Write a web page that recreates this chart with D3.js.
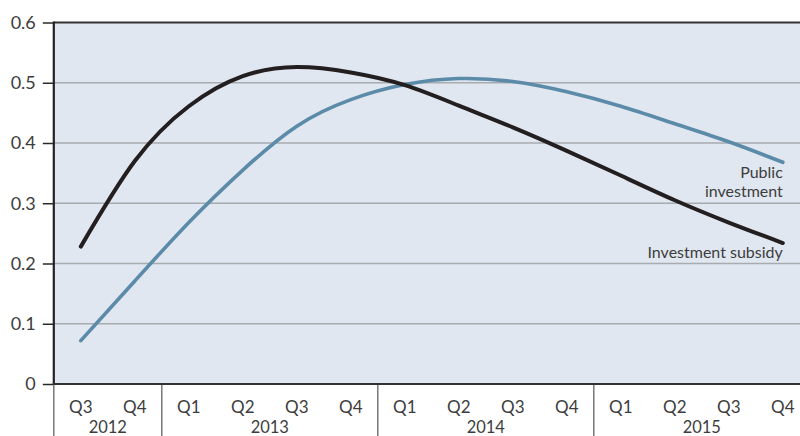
<!DOCTYPE html>
<html>
<head>
<meta charset="utf-8">
<script src="https://cdn.jsdelivr.net/npm/d3@7"></script>
<style>
  body { margin: 0; background: #fff; }
  svg text { font-family: Lato, "Liberation Sans", Arial, sans-serif; fill: #3d3d3d; }
</style>
</head>
<body>
<div id="chart"></div>
<script>
// quarters on the x axis, grouped by year
const quarterLabels = ["Q3", "Q4", "Q1", "Q2", "Q3", "Q4", "Q1", "Q2", "Q3", "Q4", "Q1", "Q2", "Q3", "Q4"];
const yearLabels = ["2012", "2013", "2014", "2015"];
const quartersPerYear = [2, 4, 4, 4];

// series values
const investmentSubsidy = [0.228, 0.37, 0.461, 0.511, 0.526, 0.517, 0.496, 0.462, 0.426, 0.387, 0.346, 0.305, 0.268, 0.234];
const publicInvestment  = [0.072, 0.171, 0.268, 0.355, 0.428, 0.472, 0.497, 0.507, 0.502, 0.485, 0.461, 0.432, 0.402, 0.368];

const yTicks = [0, 0.1, 0.2, 0.3, 0.4, 0.5, 0.6];

const W = 800, H = 436;
const plotLeft = 53.8, plotTop = 22.5, plotBottom = 384;
const step = 54;

const svg = d3.select("#chart").append("svg")
  .attr("width", W).attr("height", H);

const idx = d3.range(quarterLabels.length);

const x = d3.scaleBand()
  .domain(idx)
  .range([plotLeft, plotLeft + step * idx.length])
  .padding(0);
const xc = i => x(i) + x.bandwidth() / 2;

const y = d3.scaleLinear().domain([0, 0.6]).range([plotBottom, plotTop]);

// plot background
svg.append("rect")
  .attr("x", plotLeft).attr("y", plotTop)
  .attr("width", x.range()[1] - plotLeft).attr("height", plotBottom - plotTop)
  .attr("fill", "#e0e7f0");

// gridlines
svg.append("g")
  .selectAll("line")
  .data(yTicks.filter(d => d > 0 && d < 0.6))
  .join("line")
  .attr("x1", plotLeft).attr("x2", W)
  .attr("y1", d => y(d)).attr("y2", d => y(d))
  .attr("stroke", "#a8abb0").attr("stroke-width", 1.5);

// y axis
const yAxis = svg.append("g")
  .attr("transform", `translate(${plotLeft},0)`)
  .call(d3.axisLeft(y).tickValues(yTicks).tickSize(11).tickPadding(7)
    .tickFormat(d => d === 0 ? "0" : d3.format(".1f")(d)));
yAxis.select(".domain").remove();
yAxis.selectAll("line").attr("stroke", "#2a2a2a").attr("stroke-width", 1.5);
yAxis.selectAll("text")
  .style("font-size", "18px").attr("fill", "#3d3d3d");

// year separators below the plot
let acc = 0;
const yearStarts = quartersPerYear.map(n => { const s = acc; acc += n; return s; });
svg.append("g")
  .selectAll("line")
  .data(yearStarts)
  .join("line")
  .attr("x1", d => x(d)).attr("x2", d => x(d))
  .attr("y1", plotBottom).attr("y2", H)
  .attr("stroke", "#777").attr("stroke-width", 1.5);

// quarter labels
svg.append("g")
  .selectAll("text")
  .data(idx)
  .join("text")
  .attr("x", d => xc(d)).attr("y", 413)
  .attr("text-anchor", "middle")
  .style("font-size", "17px")
  .text(d => quarterLabels[d]);

// year labels
svg.append("g")
  .selectAll("text")
  .data(yearLabels)
  .join("text")
  .attr("x", (d, i) => x(yearStarts[i]) + quartersPerYear[i] * step / 2)
  .attr("y", 432.5)
  .attr("text-anchor", "middle")
  .style("font-size", "16.5px")
  .text(d => d);

// frame: top, left, bottom
svg.append("line")
  .attr("x1", plotLeft).attr("x2", W).attr("y1", plotTop).attr("y2", plotTop)
  .attr("stroke", "#333").attr("stroke-width", 2);
svg.append("line")
  .attr("x1", plotLeft).attr("x2", plotLeft).attr("y1", plotTop - 1).attr("y2", plotBottom + 1)
  .attr("stroke", "#222").attr("stroke-width", 2.2);
svg.append("line")
  .attr("x1", plotLeft - 1).attr("x2", W).attr("y1", plotBottom).attr("y2", plotBottom)
  .attr("stroke", "#333").attr("stroke-width", 2);

// lines
const line = d3.line()
  .x((d, i) => xc(i))
  .y(d => y(d))
  .curve(d3.curveNatural);

svg.append("path")
  .datum(publicInvestment)
  .attr("fill", "none")
  .attr("stroke", "#5b8ba8")
  .attr("stroke-width", 3.6)
  .attr("stroke-linecap", "round")
  .attr("d", line);

svg.append("path")
  .datum(investmentSubsidy)
  .attr("fill", "none")
  .attr("stroke", "#231f20")
  .attr("stroke-width", 4)
  .attr("stroke-linecap", "round")
  .attr("d", line);

// series labels
const last = idx.length - 1;
svg.append("text")
  .attr("x", xc(last)).attr("y", 178)
  .attr("text-anchor", "end")
  .style("font-size", "16px")
  .text("Public");
svg.append("text")
  .attr("x", xc(last)).attr("y", 197)
  .attr("text-anchor", "end")
  .style("font-size", "16px")
  .text("investment");
svg.append("text")
  .attr("x", xc(last)).attr("y", 258)
  .attr("text-anchor", "end")
  .style("font-size", "16px")
  .text("Investment subsidy");
</script>
</body>
</html>
